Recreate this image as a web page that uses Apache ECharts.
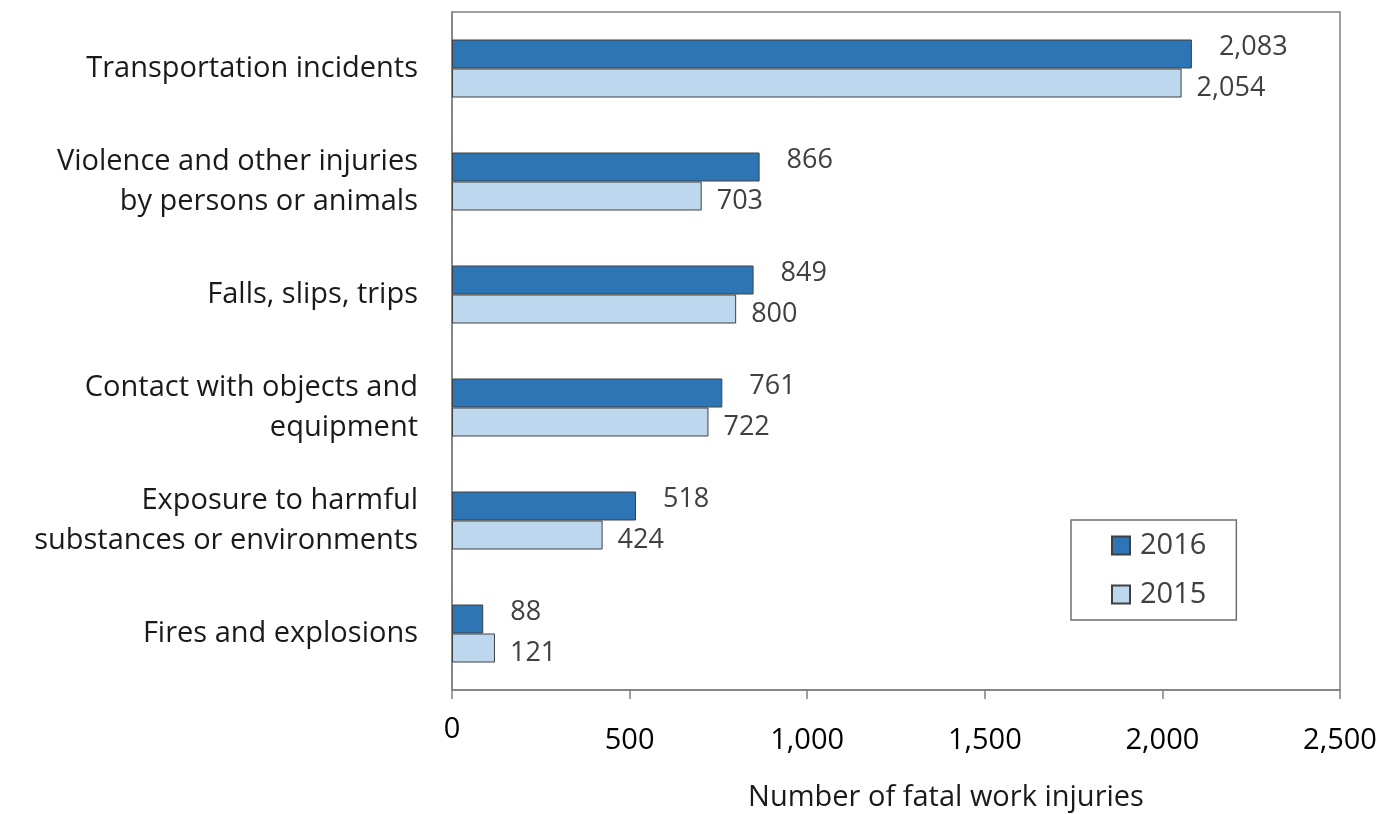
<!DOCTYPE html>
<html><head><meta charset="utf-8">
<script src="https://cdn.jsdelivr.net/npm/echarts@6/dist/echarts.min.js"></script>
<style>html,body{margin:0;padding:0;background:#fff}#c{width:1395px;height:814px}</style>
</head><body><div id="c"></div>
<script>
const categories = ["Transportation incidents","Violence and other injuries\nby persons or animals","Falls, slips, trips","Contact with objects and\nequipment","Exposure to harmful\nsubstances or environments","Fires and explosions"];
const values2016 = [2083, 866, 849, 761, 518, 88];
const values2015 = [2054, 703, 800, 722, 424, 121];
const xTicks = [0, 500, 1000, 1500, 2000, 2500];
const xTitle = "Number of fatal work injuries";
const FONT = "'Open Sans', 'Noto Sans', sans-serif";
const chart = echarts.init(document.getElementById('c'));
chart.setOption({
  animation:false,
  textStyle:{fontFamily:FONT},
  grid:{left:452,right:55,top:12,bottom:124,containLabel:false,outerBoundsMode:'none',show:true,borderColor:'#808080',borderWidth:1.5,backgroundColor:'transparent'},
  legend:{
    data:['2016','2015'], orient:'vertical', left:1071, top:520,
    padding:[11,30,11,40], itemGap:20, itemWidth:18, itemHeight:18,
    borderColor:'#707070', borderWidth:1.5,
    textStyle:{fontSize:29,color:'#404040',fontFamily:FONT,padding:[0,0,0,5]},
    icon:'rect'
  },
  xAxis:{
    type:'value', min:0, max:2500, interval:500,
    name:xTitle, nameLocation:'middle', nameGap:93,
    nameTextStyle:{fontSize:29,color:'#1a1a1a',fontFamily:FONT,padding:[0,0,0,100]},
    axisLine:{show:true,lineStyle:{color:'#808080',width:1.5}},
    axisTick:{show:true,length:9,lineStyle:{color:'#808080',width:1.5}},
    splitLine:{show:false},
    axisLabel:{
      margin:25, fontSize:29, color:'#000', fontFamily:FONT,
      formatter:function(v){ if(v===0) return '{z|0}'; return '{n|'+v.toLocaleString('en-US')+'}'; },
      rich:{z:{fontSize:29,color:'#000',fontFamily:FONT},n:{fontSize:29,color:'#000',padding:[11,0,0,0],fontFamily:FONT}}
    }
  },
  yAxis:{
    type:'category', data:categories, inverse:true,
    axisLine:{show:true,lineStyle:{color:'#808080',width:1.5}},
    axisTick:{show:false},
    axisLabel:{fontSize:29,color:'#1a1a1a',margin:34,lineHeight:40,fontFamily:FONT,align:'right'}
  },
  series:[
    {name:'2016',type:'bar',data:values2016,barWidth:29,barGap:'0%',
     itemStyle:{color:'#2E75B6',borderColor:'#404040',borderWidth:1},
     label:{show:true,position:'right',offset:[22,-7],fontSize:27,color:'#404040',fontFamily:FONT,
       formatter:p=>p.value.toLocaleString('en-US')}},
    {name:'2015',type:'bar',data:values2015,barWidth:29,barGap:'0%',
     itemStyle:{color:'#BDD7EE',borderColor:'#404040',borderWidth:1},
     label:{show:true,position:'right',offset:[10,5],fontSize:27,color:'#404040',fontFamily:FONT,
       formatter:p=>p.value.toLocaleString('en-US')}}
  ]
});
</script></body></html>
